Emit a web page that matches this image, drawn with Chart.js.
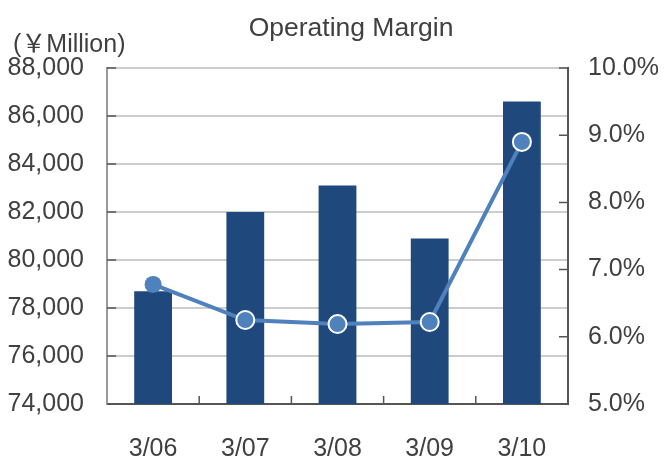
<!DOCTYPE html>
<html>
<head>
<meta charset="utf-8">
<script src="https://cdn.jsdelivr.net/npm/chart.js@4"></script>
<style>
  html, body { margin: 0; padding: 0; background: #fff; }
  #wrap { width: 666px; height: 457px; }
</style>
</head>
<body>
<div id="wrap"><canvas id="marginChart" width="666" height="457"></canvas></div>
<script>
const years = ['3/06', '3/07', '3/08', '3/09', '3/10'];
const sales = [78700, 82000, 83100, 80900, 86600];
const margin = [6.78, 6.25, 6.19, 6.22, 8.9];
const leftTicks = [74000, 76000, 78000, 80000, 82000, 84000, 86000, 88000];
const rightTicks = [5, 6, 7, 8, 9, 10];

const textColor = '#404040';
const fontName = 'Liberation Sans, Arial, "Noto Sans CJK JP", sans-serif';

// title and unit label
const headerText = {
    id: 'headerText',
    afterDraw(chart) {
        const ctx = chart.ctx;
        ctx.save();
        ctx.fillStyle = textColor;
        ctx.textBaseline = 'alphabetic';
        ctx.font = '26.5px ' + fontName;
        ctx.textAlign = 'center';
        ctx.fillText('Operating Margin', 351, 36);
        ctx.font = '25px ' + fontName;
        ctx.textAlign = 'left';
        ctx.fillText('(\uFFE5Million)', 13, 52);
        ctx.restore();
    }
};

// short tick marks pointing into the plot
const innerTicks = {
    id: 'innerTicks',
    afterDatasetsDraw(chart) {
        const { ctx, chartArea, scales } = chart;
        ctx.save();
        ctx.strokeStyle = '#555555';
        ctx.lineWidth = 1.5;
        ctx.beginPath();
        scales.y.ticks.forEach((t, i) => {
            const py = scales.y.getPixelForTick(i);
            ctx.moveTo(chartArea.left, py);
            ctx.lineTo(chartArea.left + 9, py);
        });
        scales.y1.ticks.forEach((t, i) => {
            const py = scales.y1.getPixelForTick(i);
            ctx.moveTo(chartArea.right, py);
            ctx.lineTo(chartArea.right - 9, py);
        });
        for (let i = 1; i < years.length; i++) {
            const px = (scales.x.getPixelForTick(i - 1) + scales.x.getPixelForTick(i)) / 2;
            ctx.moveTo(px, chartArea.bottom);
            ctx.lineTo(px, chartArea.bottom - 8);
        }
        ctx.stroke();
        ctx.restore();
    }
};

const ctx = document.getElementById('marginChart').getContext('2d');
const chart = new Chart(ctx, {
    data: {
        labels: years,
        datasets: [{
            type: 'line',
            label: 'Operating Margin',
            data: margin,
            yAxisID: 'y1',
            borderColor: '#4f81bd',
            borderWidth: 4,
            pointRadius: [8.5, 9, 9, 9, 9],
            pointBackgroundColor: '#4f81bd',
            pointBorderColor: '#ffffff',
            pointBorderWidth: [0, 2, 2, 2, 2],
            tension: 0,
            order: 0
        }, {
            type: 'bar',
            label: 'Net Sales',
            data: sales,
            yAxisID: 'y',
            backgroundColor: '#1f497d',
            barPercentage: 0.41,
            categoryPercentage: 1,
            order: 1
        }]
    },
    options: {
        responsive: false,
        animation: false,
        layout: { padding: { top: 68, left: 0, right: 0, bottom: 0 } },
        plugins: {
            legend: { display: false },
            title: { display: false },
            tooltip: { enabled: false }
        },
        scales: {
            x: {
                offset: true,
                grid: { display: false, drawTicks: false },
                border: { color: '#555555', width: 2 },
                ticks: { color: textColor, font: { family: fontName, size: 25 }, padding: 30 },
                afterFit(scale) { scale.height = 53; }
            },
            y: {
                position: 'left',
                min: 74000,
                max: 88000,
                afterBuildTicks(scale) { scale.ticks = leftTicks.map(v => ({ value: v })); },
                grid: { color: '#cccccc', lineWidth: 2, drawTicks: false },
                border: { color: '#999999', width: 2 },
                ticks: {
                    color: textColor,
                    font: { family: fontName, size: 25 },
                    padding: 23,
                    callback: v => v.toLocaleString('en-US')
                },
                afterFit(scale) { scale.width = 107; }
            },
            y1: {
                position: 'right',
                min: 5,
                max: 10,
                afterBuildTicks(scale) { scale.ticks = rightTicks.map(v => ({ value: v })); },
                grid: { drawOnChartArea: false, drawTicks: false },
                border: { color: '#555555', width: 2 },
                ticks: {
                    color: textColor,
                    font: { family: fontName, size: 25 },
                    padding: 20,
                    callback: v => v.toFixed(1) + '%'
                },
                afterFit(scale) { scale.width = 98; }
            }
        }
    },
    plugins: [innerTicks, headerText]
});
</script>
</body>
</html>
